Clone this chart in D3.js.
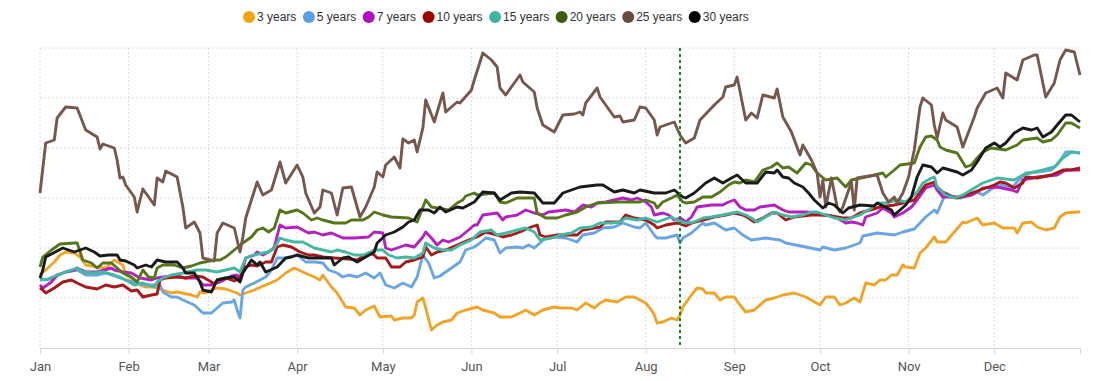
<!DOCTYPE html>
<html lang="en">
<head>
  <meta charset="UTF-8">
  <script src="https://cdn.jsdelivr.net/npm/d3@7"></script>
  <title>Yield curve by maturity</title>
  <style>
    body { margin: 0; background: #fff; }
    svg { display: block; }
  </style>
</head>
<body>
  <svg></svg>
</body>
<script>
const width = 1097;
const height = 381;
const margin = { top: 48, right: 17, bottom: 33, left: 40 };

// series names and colours, legend order
const seriesNames = ['3 years', '5 years', '7 years', '10 years', '15 years', '20 years', '25 years', '30 years'];
const lineColors = ['#f0a52a', '#6aa6e3', '#b321c0', '#a8191c', '#45b8a2', '#56761c', '#76584d', '#1a1a1a'];
const dotColors  = ['#f2a30f', '#5b9fe3', '#b10fc0', '#a10000', '#3db59e', '#3d5e08', '#6b4a3e', '#000000'];
const monthLabels = ['Jan', 'Feb', 'Mar', 'Apr', 'May', 'Jun', 'Jul', 'Aug', 'Sep', 'Oct', 'Nov', 'Dec'];

// day of year (0 = Jan 1) and value
const y3 = [[0,0.73],[2,0.78],[5,0.86],[7,0.93],[9,0.96],[12,0.95],[14,0.91],[16,0.83],[20,0.81],[23,0.80],[26,0.88],[29,0.83],[30,0.73],[33,0.68],[35,0.63],[37,0.61],[40,0.61],[43,0.58],[46,0.55],[48,0.56],[53,0.53],[55,0.51],[56,0.56],[58,0.55],[60,0.58],[62,0.60],[65,0.59],[69,0.55],[70,0.53],[75,0.58],[79,0.63],[83,0.68],[86,0.75],[89,0.80],[92,0.76],[96,0.71],[98,0.68],[99,0.73],[102,0.61],[104,0.55],[107,0.41],[110,0.40],[112,0.33],[114,0.38],[117,0.42],[119,0.31],[123,0.32],[124,0.28],[127,0.30],[130,0.30],[131,0.33],[132,0.46],[134,0.50],[135,0.40],[137,0.18],[139,0.23],[141,0.26],[144,0.28],[146,0.35],[149,0.38],[153,0.41],[155,0.38],[159,0.35],[161,0.31],[165,0.31],[168,0.35],[170,0.38],[173,0.33],[176,0.38],[180,0.41],[182,0.40],[186,0.40],[188,0.38],[191,0.45],[194,0.40],[196,0.45],[198,0.48],[202,0.46],[205,0.51],[208,0.51],[210,0.48],[212,0.45],[214,0.38],[215,0.33],[216,0.25],[218,0.26],[221,0.30],[223,0.28],[224,0.33],[225,0.41],[228,0.53],[230,0.60],[232,0.59],[233,0.55],[236,0.55],[238,0.48],[240,0.51],[243,0.51],[245,0.43],[247,0.36],[250,0.38],[254,0.48],[257,0.50],[260,0.53],[264,0.55],[268,0.51],[273,0.43],[275,0.51],[278,0.51],[280,0.43],[282,0.45],[285,0.50],[287,0.46],[289,0.65],[292,0.63],[294,0.68],[296,0.68],[298,0.73],[300,0.73],[302,0.83],[303,0.81],[306,0.80],[308,0.95],[310,1.00],[313,1.11],[314,1.06],[317,1.06],[320,1.16],[323,1.26],[324,1.25],[328,1.30],[330,1.23],[334,1.25],[337,1.20],[341,1.20],[342,1.15],[344,1.25],[347,1.26],[349,1.21],[352,1.18],[355,1.20],[357,1.31],[359,1.35],[363,1.36],[364,1.36]];

const y5 = [[0,0.68],[4,0.69],[8,0.75],[9,0.76],[13,0.78],[16,0.73],[20,0.73],[23,0.75],[27,0.71],[30,0.68],[34,0.65],[37,0.63],[42,0.63],[43,0.56],[46,0.51],[48,0.51],[50,0.48],[54,0.43],[57,0.35],[60,0.35],[62,0.40],[64,0.45],[67,0.46],[68,0.48],[69,0.38],[70,0.30],[71,0.58],[72,0.61],[75,0.65],[79,0.71],[81,0.78],[83,0.90],[86,0.90],[90,0.93],[93,0.86],[96,0.86],[99,0.85],[101,0.78],[104,0.75],[106,0.71],[108,0.73],[111,0.71],[114,0.75],[117,0.70],[119,0.75],[121,0.63],[124,0.60],[127,0.65],[130,0.61],[132,0.71],[134,0.93],[136,0.85],[138,0.70],[140,0.72],[144,0.80],[147,0.86],[149,0.98],[152,1.01],[154,1.05],[156,1.10],[159,1.08],[161,0.95],[163,1.00],[167,1.01],[169,1.00],[171,1.03],[173,1.00],[175,1.05],[177,1.10],[180,1.11],[184,1.10],[188,1.06],[190,1.13],[194,1.15],[197,1.20],[201,1.21],[204,1.25],[208,1.21],[210,1.20],[212,1.25],[215,1.13],[216,1.10],[219,1.10],[223,1.13],[224,1.05],[225,1.10],[228,1.15],[232,1.25],[233,1.23],[236,1.25],[240,1.18],[243,1.20],[246,1.13],[249,1.08],[254,1.10],[259,1.08],[261,1.05],[268,1.01],[273,0.98],[274,1.01],[278,0.98],[282,1.00],[287,1.05],[288,1.12],[293,1.15],[299,1.13],[302,1.16],[306,1.19],[308,1.25],[310,1.31],[313,1.38],[314,1.35],[316,1.48],[317,1.55],[320,1.51],[322,1.50],[326,1.53],[328,1.56],[330,1.53],[334,1.61],[337,1.63],[340,1.60],[342,1.66],[345,1.75],[349,1.76],[354,1.78],[356,1.83],[359,1.96],[361,1.96],[364,1.95]];

const y7 = [[0,0.63],[1,0.60],[4,0.66],[6,0.73],[9,0.76],[12,0.78],[13,0.80],[16,0.76],[20,0.76],[25,0.80],[26,0.78],[29,0.76],[32,0.75],[35,0.70],[39,0.68],[41,0.70],[43,0.71],[48,0.72],[51,0.70],[55,0.70],[57,0.63],[60,0.63],[63,0.66],[67,0.72],[69,0.73],[70,0.68],[72,0.90],[75,0.93],[76,0.96],[78,0.93],[81,0.98],[82,1.01],[84,1.23],[86,1.20],[90,1.21],[92,1.18],[94,1.15],[96,1.16],[99,1.13],[102,1.15],[106,1.10],[110,1.10],[115,1.11],[117,1.16],[120,1.15],[121,1.00],[123,0.98],[125,1.00],[128,1.03],[131,1.01],[134,1.11],[135,1.16],[137,1.10],[139,1.03],[141,1.08],[143,1.06],[147,1.11],[150,1.18],[152,1.23],[153,1.23],[155,1.33],[160,1.35],[162,1.28],[163,1.31],[167,1.33],[170,1.38],[173,1.35],[176,1.33],[178,1.36],[184,1.38],[187,1.36],[190,1.43],[193,1.41],[195,1.45],[198,1.46],[201,1.48],[204,1.50],[207,1.48],[209,1.50],[212,1.46],[214,1.41],[215,1.33],[218,1.35],[220,1.33],[222,1.28],[224,1.30],[226,1.26],[228,1.31],[230,1.41],[235,1.43],[239,1.43],[241,1.46],[243,1.48],[245,1.41],[247,1.38],[250,1.38],[252,1.41],[257,1.43],[260,1.38],[262,1.36],[268,1.36],[271,1.35],[274,1.33],[277,1.32],[279,1.30],[282,1.25],[284,1.26],[286,1.25],[288,1.23],[289,1.31],[293,1.35],[295,1.40],[298,1.35],[299,1.31],[302,1.35],[305,1.41],[307,1.48],[310,1.60],[313,1.63],[314,1.58],[316,1.51],[322,1.51],[326,1.53],[328,1.56],[330,1.60],[335,1.61],[340,1.58],[342,1.56],[344,1.68],[349,1.71],[356,1.73],[359,1.78],[364,1.78]];

const y10 = [[0,0.60],[1,0.58],[2,0.55],[5,0.60],[8,0.66],[11,0.68],[13,0.65],[16,0.61],[20,0.59],[23,0.63],[26,0.61],[29,0.63],[32,0.57],[34,0.58],[36,0.51],[39,0.53],[41,0.54],[42,0.68],[44,0.70],[48,0.71],[51,0.70],[54,0.72],[57,0.71],[60,0.66],[61,0.64],[62,0.68],[65,0.70],[68,0.67],[70,0.70],[71,0.80],[74,0.83],[76,0.82],[79,0.86],[81,0.86],[83,1.01],[85,1.03],[88,1.01],[91,0.96],[94,0.93],[96,0.93],[99,0.91],[103,0.90],[108,0.89],[111,0.88],[115,0.95],[117,0.93],[118,0.90],[121,0.90],[123,0.81],[126,0.81],[128,0.86],[131,0.88],[134,0.91],[135,1.01],[137,0.93],[139,0.96],[142,0.98],[146,1.03],[150,1.08],[153,1.11],[156,1.16],[160,1.13],[162,1.11],[165,1.13],[168,1.16],[171,1.20],[174,1.23],[175,1.13],[177,1.11],[181,1.13],[188,1.13],[190,1.18],[194,1.20],[196,1.21],[198,1.26],[203,1.26],[205,1.33],[208,1.30],[212,1.28],[215,1.23],[216,1.20],[219,1.23],[223,1.25],[226,1.22],[228,1.25],[232,1.28],[236,1.31],[240,1.33],[243,1.35],[246,1.33],[248,1.30],[250,1.26],[253,1.30],[256,1.35],[258,1.35],[261,1.28],[264,1.31],[270,1.33],[275,1.33],[281,1.30],[284,1.30],[287,1.35],[294,1.41],[299,1.43],[302,1.45],[306,1.48],[308,1.56],[310,1.63],[313,1.66],[314,1.61],[316,1.56],[319,1.51],[321,1.50],[324,1.53],[329,1.58],[334,1.63],[336,1.66],[338,1.65],[341,1.60],[344,1.65],[345,1.71],[349,1.70],[354,1.73],[358,1.78],[361,1.78],[364,1.80]];

const y15 = [[0,0.70],[2,0.68],[6,0.73],[9,0.76],[13,0.80],[15,0.76],[19,0.75],[22,0.76],[26,0.73],[28,0.71],[30,0.68],[33,0.63],[36,0.65],[40,0.61],[41,0.66],[43,0.70],[46,0.73],[50,0.75],[55,0.78],[58,0.78],[62,0.76],[65,0.78],[68,0.80],[70,0.76],[72,0.90],[75,0.93],[78,0.95],[80,0.96],[82,1.00],[84,1.10],[86,1.08],[89,1.06],[92,1.06],[94,1.03],[96,1.00],[99,0.98],[102,0.96],[104,0.98],[107,0.96],[110,0.93],[113,0.93],[115,0.95],[117,0.98],[120,0.98],[122,0.93],[125,0.90],[128,0.91],[131,0.90],[134,0.95],[135,1.05],[138,1.00],[141,0.98],[144,0.98],[147,1.03],[151,1.08],[154,1.16],[158,1.18],[160,1.13],[163,1.15],[167,1.18],[170,1.20],[173,1.16],[175,1.08],[179,1.10],[182,1.13],[186,1.15],[189,1.20],[193,1.21],[196,1.25],[200,1.25],[203,1.26],[205,1.30],[209,1.28],[212,1.30],[214,1.28],[216,1.26],[218,1.28],[221,1.31],[223,1.28],[226,1.25],[229,1.26],[232,1.30],[235,1.31],[239,1.33],[244,1.36],[247,1.33],[249,1.30],[251,1.26],[254,1.31],[257,1.36],[260,1.33],[263,1.31],[267,1.33],[270,1.36],[272,1.36],[275,1.33],[278,1.30],[282,1.28],[287,1.33],[291,1.40],[293,1.45],[296,1.45],[300,1.48],[303,1.46],[307,1.56],[309,1.65],[312,1.70],[313,1.71],[314,1.61],[317,1.53],[320,1.50],[323,1.53],[327,1.60],[330,1.65],[333,1.68],[335,1.70],[341,1.68],[344,1.73],[348,1.76],[351,1.78],[355,1.81],[358,1.90],[361,1.96],[364,1.95]];

const y20 = [[0,0.81],[1,0.91],[4,0.98],[7,1.04],[12,1.05],[13,1.05],[15,0.88],[18,0.85],[20,0.80],[22,0.85],[25,0.85],[27,0.80],[29,0.75],[32,0.71],[34,0.66],[36,0.78],[38,0.71],[40,0.70],[41,0.80],[43,0.83],[47,0.83],[50,0.80],[53,0.82],[56,0.85],[61,0.88],[63,0.88],[65,0.91],[68,0.98],[71,1.05],[74,1.11],[76,1.18],[78,1.20],[80,1.16],[82,1.20],[84,1.38],[86,1.35],[90,1.38],[92,1.35],[95,1.28],[97,1.30],[99,1.28],[103,1.25],[107,1.25],[109,1.28],[113,1.28],[115,1.31],[117,1.36],[120,1.33],[123,1.31],[129,1.30],[132,1.26],[135,1.48],[137,1.41],[143,1.38],[146,1.45],[148,1.48],[149,1.52],[152,1.55],[153,1.53],[159,1.55],[161,1.46],[163,1.45],[167,1.50],[173,1.50],[174,1.35],[177,1.30],[181,1.30],[184,1.33],[188,1.36],[191,1.41],[195,1.45],[202,1.46],[210,1.46],[212,1.48],[215,1.45],[216,1.40],[218,1.46],[221,1.50],[223,1.53],[225,1.46],[226,1.45],[229,1.46],[232,1.51],[235,1.51],[238,1.56],[241,1.63],[243,1.66],[245,1.65],[247,1.68],[250,1.66],[253,1.78],[256,1.81],[258,1.85],[260,1.80],[262,1.81],[265,1.75],[268,1.85],[270,1.83],[272,1.75],[275,1.68],[279,1.70],[282,1.61],[284,1.68],[289,1.71],[295,1.75],[296,1.71],[299,1.78],[301,1.83],[306,1.85],[308,2.01],[310,2.11],[312,2.12],[314,2.08],[315,2.01],[317,1.98],[321,1.95],[324,1.81],[326,1.83],[328,1.90],[330,1.96],[333,2.00],[338,1.98],[342,2.03],[344,2.08],[349,2.10],[351,2.06],[354,2.08],[356,2.13],[359,2.25],[361,2.25],[364,2.20]];

const y25 = [[0,1.55],[2,2.05],[5,2.08],[6,2.30],[9,2.41],[13,2.40],[16,2.18],[20,2.11],[21,1.99],[22,2.04],[26,2.00],[27,1.88],[28,1.70],[29,1.71],[30,1.63],[33,1.51],[34,1.36],[35,1.48],[36,1.59],[40,1.43],[41,1.70],[43,1.66],[44,1.77],[48,1.71],[50,1.41],[51,1.20],[54,1.26],[56,1.15],[57,0.90],[61,0.87],[62,1.15],[64,1.25],[68,1.20],[70,0.96],[71,1.11],[72,1.30],[74,1.48],[76,1.66],[78,1.53],[81,1.58],[84,1.86],[86,1.65],[90,1.83],[92,1.71],[93,1.55],[96,1.35],[98,1.41],[99,1.58],[102,1.55],[104,1.33],[106,1.60],[109,1.61],[112,1.31],[114,1.41],[117,1.61],[118,1.76],[120,1.71],[121,1.83],[124,1.91],[126,1.80],[127,2.09],[129,2.05],[131,2.08],[132,1.96],[134,2.20],[135,2.48],[138,2.26],[141,2.55],[142,2.36],[146,2.46],[147,2.45],[151,2.58],[152,2.68],[155,2.95],[158,2.88],[160,2.81],[161,2.60],[163,2.53],[166,2.65],[168,2.73],[169,2.66],[173,2.56],[174,2.40],[176,2.23],[180,2.16],[183,2.33],[187,2.34],[189,2.36],[190,2.33],[191,2.45],[195,2.60],[196,2.51],[201,2.31],[203,2.32],[204,2.26],[208,2.28],[210,2.41],[212,2.40],[215,2.28],[216,2.13],[217,2.21],[222,2.26],[224,2.13],[226,2.05],[229,2.10],[231,2.28],[236,2.43],[239,2.51],[240,2.61],[243,2.63],[244,2.71],[247,2.28],[249,2.35],[251,2.30],[253,2.53],[257,2.50],[258,2.59],[260,2.31],[263,2.16],[266,1.93],[267,2.03],[270,1.88],[272,1.75],[273,1.51],[274,1.68],[275,1.41],[277,1.70],[279,1.41],[280,1.36],[281,1.41],[284,1.66],[285,1.38],[286,1.70],[288,1.71],[293,1.73],[295,1.55],[297,1.46],[299,1.51],[300,1.45],[302,1.55],[304,1.71],[306,1.98],[308,2.41],[309,2.50],[312,2.43],[313,2.23],[314,2.10],[316,2.35],[317,2.28],[321,2.21],[323,2.01],[327,2.31],[328,2.40],[331,2.55],[335,2.60],[337,2.50],[338,2.75],[342,2.68],[344,2.88],[348,2.93],[349,2.93],[352,2.51],[355,2.65],[357,2.88],[359,2.98],[362,2.96],[364,2.73]];

const y30 = [[0,0.70],[1,0.78],[2,0.91],[6,0.97],[8,1.00],[12,0.96],[14,0.98],[16,1.00],[19,0.96],[21,0.92],[24,0.93],[27,0.93],[28,0.88],[30,0.87],[33,0.83],[34,0.80],[37,0.83],[39,0.81],[41,0.88],[44,0.86],[48,0.86],[50,0.80],[51,0.75],[54,0.75],[56,0.66],[57,0.58],[60,0.56],[62,0.68],[65,0.70],[68,0.71],[70,0.66],[71,0.75],[74,0.88],[76,0.83],[77,0.86],[79,0.76],[83,0.81],[86,0.90],[88,0.91],[90,0.93],[94,0.90],[97,0.90],[102,0.90],[103,0.83],[106,0.90],[108,0.91],[111,0.86],[114,0.91],[117,0.96],[118,1.05],[121,1.13],[124,1.16],[127,1.21],[129,1.26],[131,1.28],[133,1.38],[136,1.38],[138,1.35],[140,1.41],[142,1.36],[146,1.41],[148,1.40],[152,1.46],[155,1.56],[159,1.55],[161,1.48],[165,1.55],[168,1.56],[173,1.55],[176,1.45],[180,1.45],[183,1.55],[189,1.61],[195,1.63],[197,1.63],[201,1.56],[204,1.58],[208,1.55],[210,1.58],[215,1.55],[219,1.55],[222,1.58],[225,1.51],[226,1.50],[229,1.55],[233,1.65],[236,1.70],[239,1.65],[242,1.70],[244,1.73],[247,1.65],[251,1.65],[254,1.76],[257,1.75],[258,1.78],[260,1.71],[262,1.70],[264,1.65],[267,1.61],[269,1.55],[271,1.48],[274,1.40],[276,1.45],[278,1.43],[281,1.35],[283,1.40],[287,1.43],[292,1.42],[293,1.45],[298,1.38],[299,1.33],[301,1.38],[303,1.43],[305,1.51],[307,1.71],[309,1.83],[312,1.81],[314,1.75],[316,1.80],[321,1.76],[323,1.73],[326,1.78],[328,1.86],[331,2.00],[334,2.05],[336,2.01],[338,2.05],[341,2.15],[344,2.20],[347,2.18],[349,2.20],[351,2.11],[354,2.16],[356,2.23],[359,2.33],[361,2.33],[364,2.26]];

const seriesValues = [y3, y5, y7, y10, y15, y20, y25, y30];
const markerDay = 224;   // dotted green line, mid August
const yearStart = new Date(2019, 0, 1);
const yTicks = [0.5, 1, 1.5, 2, 2.5, 3];

const dayToDate = d => d3.timeDay.offset(yearStart, d);

const svg = d3.select('svg').attr('width', width).attr('height', height);

const x = d3.scaleTime()
  .domain([yearStart, new Date(2019, 11, 31)])
  .range([margin.left, width - margin.right]);
const y = d3.scaleLinear()
  .domain([0, 3])
  .range([height - margin.bottom, margin.top]);

// dotted grid
const grid = svg.append('g');
grid.selectAll('.hgrid')
  .data(yTicks)
  .enter()
  .append('line')
  .attr('x1', x.range()[0])
  .attr('x2', x.range()[1])
  .attr('y1', d => y(d))
  .attr('y2', d => y(d))
  .attr('stroke', '#dcdcdc')
  .attr('stroke-dasharray', '2,2');
grid.selectAll('.vgrid')
  .data(d3.timeMonth.range(yearStart, new Date(2020, 0, 1)))
  .enter()
  .append('line')
  .attr('x1', d => x(d))
  .attr('x2', d => x(d))
  .attr('y1', y(3))
  .attr('y2', y(0))
  .attr('stroke', '#dcdcdc')
  .attr('stroke-dasharray', '2,2');

// x axis
const xAxis = d3.axisBottom(x)
  .ticks(d3.timeMonth.every(1))
  .tickFormat(d => monthLabels[d.getMonth()])
  .tickSize(6)
  .tickPadding(8);
const axisG = svg.append('g')
  .attr('transform', `translate(0, ${y(0)})`)
  .call(xAxis);
axisG.select('.domain').attr('stroke', '#d6d6d6');
axisG.selectAll('.tick line').attr('stroke', '#d6d6d6');
axisG.selectAll('.tick text')
  .attr('fill', '#555')
  .style('font-family', 'Roboto, "Liberation Sans", sans-serif')
  .style('font-size', '13px');

// lines
const line = d3.line()
  .x(d => x(dayToDate(d[0])))
  .y(d => y(d[1]));
svg.append('g')
  .selectAll('path')
  .data(seriesValues)
  .enter()
  .append('path')
  .attr('d', line)
  .attr('fill', 'none')
  .attr('stroke', (d, i) => lineColors[i])
  .attr('stroke-width', 2.9)
  .attr('stroke-linejoin', 'round');

// marker line
svg.append('line')
  .attr('x1', x(dayToDate(markerDay)))
  .attr('x2', x(dayToDate(markerDay)))
  .attr('y1', y(3))
  .attr('y2', y(0))
  .attr('stroke', '#15861c')
  .attr('stroke-width', 2)
  .attr('stroke-dasharray', '3,3');

// legend
const legend = svg.append('g').attr('transform', 'translate(243, 17)');
let lx = 0;
seriesNames.forEach((name, i) => {
  const item = legend.append('g').attr('transform', `translate(${lx}, 0)`);
  item.append('circle').attr('cx', 6).attr('cy', 0).attr('r', 6).attr('fill', dotColors[i]);
  const t = item.append('text')
    .attr('x', 14)
    .attr('dy', '0.35em')
    .attr('fill', '#333')
    .style('font-family', 'Arial, "Liberation Sans", sans-serif')
    .style('font-size', '12px')
    .text(name);
  lx += 14 + t.node().getComputedTextLength() + 6.5;
});
</script>
</html>
